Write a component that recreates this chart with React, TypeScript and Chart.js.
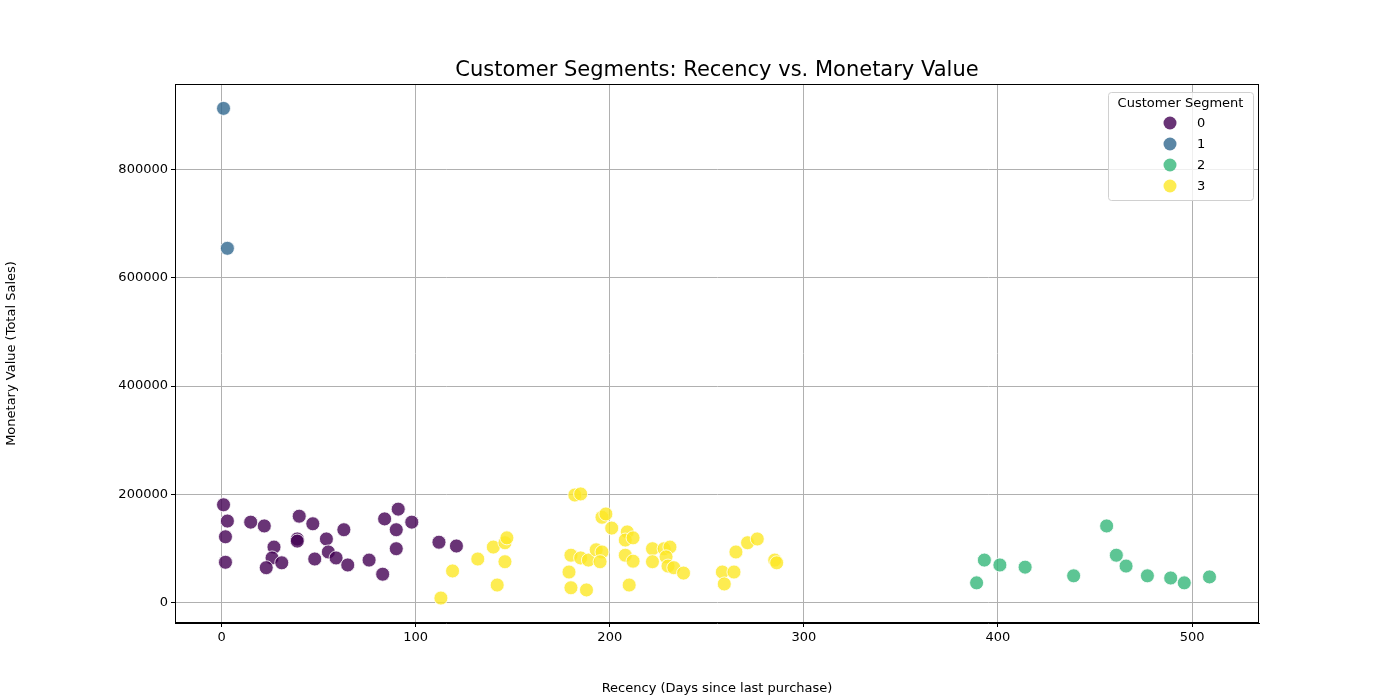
import { useEffect, useRef } from "react";
import { Chart, registerables } from "chart.js";

Chart.register(...registerables);

const segments = ["0", "1", "2", "3"];
const colors = [
  "rgba(68, 1, 84, 0.8)",
  "rgba(49, 104, 142, 0.8)",
  "rgba(53, 183, 121, 0.8)",
  "rgba(253, 231, 37, 0.8)",
];

// [recency, monetary]
const seg0: number[][] = [
  [1, 181000], [3, 151000], [2, 122000], [2, 75000], [15, 149000], [22, 142000],
  [27, 103000], [26, 83000], [23, 65000], [31, 74000], [40, 160000], [47, 146000],
  [39, 118000], [39, 114000], [48, 81000], [54, 118000], [63, 135000], [55, 94000],
  [59, 83000], [65, 70000], [76, 79000], [83, 53000], [84, 155000], [91, 173000],
  [90, 135000], [90, 100000], [98, 149000], [112, 112000], [121, 105000],
];
const seg1: number[][] = [
  [1, 912000], [3, 654000],
];
const seg2: number[][] = [
  [389, 37000], [393, 79000], [401, 70000], [414, 66000], [439, 50000], [456, 142000],
  [461, 88000], [466, 68000], [477, 50000], [489, 46000], [496, 37000], [509, 48000],
];
const seg3: number[][] = [
  [113, 9000], [119, 59000], [132, 81000], [140, 103000], [142, 33000], [146, 76000],
  [146, 111000], [147, 120000], [182, 199000], [185, 201000], [196, 158000], [198, 164000],
  [201, 138000], [180, 88000], [185, 83000], [189, 79000], [193, 98000], [196, 94000],
  [195, 76000], [179, 57000], [180, 28000], [188, 24000], [209, 131000], [208, 116000],
  [212, 120000], [208, 88000], [212, 77000], [210, 33000], [222, 100000], [228, 100000],
  [231, 103000], [229, 85000], [222, 76000], [230, 68000], [233, 65000], [238, 55000],
  [265, 94000], [271, 111000], [276, 118000], [258, 57000], [264, 57000], [259, 35000],
  [285, 79000], [286, 74000],
];
const allSegments = [seg0, seg1, seg2, seg3];

const xTicks = [0, 100, 200, 300, 400, 500];
const yTicks = [0, 200000, 400000, 600000, 800000];

const FONT = "'DejaVu Sans', sans-serif";

const decor = {
  id: "decor",
  afterDraw(chart: any) {
    const { ctx, chartArea: a } = chart;
    ctx.save();
    // frame
    ctx.strokeStyle = "#000";
    ctx.lineWidth = 1;
    ctx.strokeRect(a.left + 0.5, a.top + 0.5, a.right - a.left - 1, a.bottom - a.top - 1);
    // title
    ctx.fillStyle = "#000";
    ctx.font = `21px ${FONT}`;
    ctx.textAlign = "center";
    ctx.textBaseline = "alphabetic";
    ctx.fillText("Customer Segments: Recency vs. Monetary Value", (a.left + a.right) / 2, 76);
    // legend
    const lx = 1108, ly = 92, lw = 145, lh = 108;
    ctx.fillStyle = "rgba(255,255,255,0.8)";
    ctx.strokeStyle = "#d0d0d0";
    ctx.beginPath();
    ctx.roundRect(lx + 0.5, ly + 0.5, lw, lh, 3);
    ctx.fill();
    ctx.stroke();
    ctx.fillStyle = "#000";
    ctx.font = `13px ${FONT}`;
    ctx.fillText("Customer Segment", lx + lw / 2, ly + 15);
    ctx.textAlign = "left";
    segments.forEach((s, i) => {
      const yy = ly + 31 + i * 21;
      ctx.beginPath();
      ctx.arc(lx + 62, yy, 6.5, 0, Math.PI * 2);
      ctx.fillStyle = colors[i];
      ctx.fill();
      ctx.fillStyle = "#000";
      ctx.textBaseline = "middle";
      ctx.fillText(s, lx + 89, yy + 1);
    });
    ctx.restore();
  },
};

export default function App() {
  const chartRef = useRef<HTMLCanvasElement>(null);
  const chartInstance = useRef<Chart | null>(null);

  useEffect(() => {
    document.body.style.margin = "0";
    if (!chartRef.current) return;
    if (chartInstance.current) chartInstance.current.destroy();
    const ctx = chartRef.current.getContext("2d");
    if (!ctx) return;

    chartInstance.current = new Chart(ctx, {
      type: "scatter",
      data: {
        datasets: allSegments.map((pts, i) => ({
          label: segments[i],
          data: pts.map(([x, y]) => ({ x, y })),
          backgroundColor: colors[i],
          borderColor: "#ffffff",
          borderWidth: 0.8,
          pointRadius: 7,
        })),
      },
      options: {
        animation: false,
        responsive: false,
        layout: { padding: { top: 84, right: 141, left: 0, bottom: 0 } },
        plugins: { legend: { display: false }, tooltip: { enabled: false } },
        scales: {
          x: {
            type: "linear",
            min: -24,
            max: 534.5,
            afterBuildTicks: (s: any) => { s.ticks = xTicks.map((v) => ({ value: v })); },
            afterFit: (s: any) => { s.height = 77; },
            grid: { color: "#b0b0b0", tickColor: "#000", tickLength: 4 },
            border: { color: "#000" },
            ticks: { color: "#000", font: { family: FONT, size: 13 }, padding: 3, maxRotation: 0 },
            title: { display: true, text: "Recency (Days since last purchase)", color: "#000", font: { family: FONT, size: 13 }, padding: { top: 4 } },
          },
          y: {
            type: "linear",
            min: -37000,
            max: 957000,
            afterBuildTicks: (s: any) => { s.ticks = yTicks.map((v) => ({ value: v })); },
            afterFit: (s: any) => { s.width = 175; },
            grid: { color: "#b0b0b0", tickColor: "#000", tickLength: 4 },
            border: { color: "#000" },
            ticks: { color: "#000", font: { family: FONT, size: 13 }, padding: 3, callback: (v: any) => String(v) },
            title: { display: true, text: "Monetary Value (Total Sales)", color: "#000", font: { family: FONT, size: 13 }, padding: { bottom: 10 } },
          },
        },
      },
      plugins: [decor],
    });

    return () => {
      if (chartInstance.current) chartInstance.current.destroy();
    };
  }, []);

  return (
    <div style={{ width: 1400, height: 700 }}>
      <canvas ref={chartRef} width={1400} height={700}></canvas>
    </div>
  );
}
